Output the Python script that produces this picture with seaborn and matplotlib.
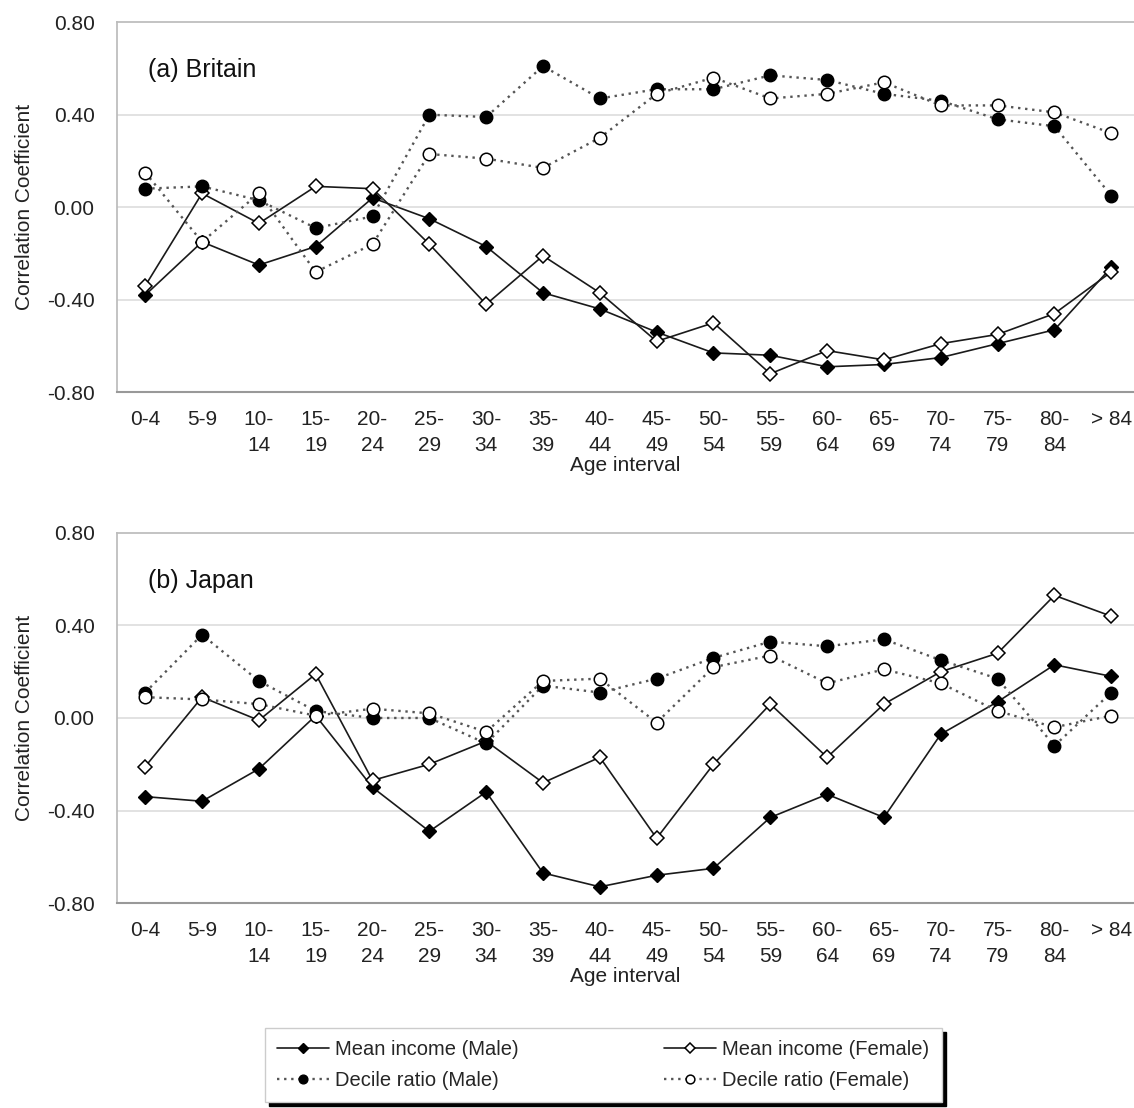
import numpy as np
import pandas as pd
import seaborn as sns
import matplotlib.pyplot as plt

age_labels = ["0-4", "5-9", "10-\n14", "15-\n19", "20-\n24", "25-\n29", "30-\n34", "35-\n39",
              "40-\n44", "45-\n49", "50-\n54", "55-\n59", "60-\n64", "65-\n69", "70-\n74",
              "75-\n79", "80-\n84", "> 84"]

# (a) Britain
gb_mean_male = [-0.38, -0.15, -0.25, -0.17, 0.04, -0.05, -0.17, -0.37, -0.44, -0.54,
                -0.63, -0.64, -0.69, -0.68, -0.65, -0.59, -0.53, -0.26]
gb_mean_female = [-0.34, 0.06, -0.07, 0.09, 0.08, -0.16, -0.42, -0.21, -0.37, -0.58,
                  -0.50, -0.72, -0.62, -0.66, -0.59, -0.55, -0.46, -0.28]
gb_decile_male = [0.08, 0.09, 0.03, -0.09, -0.04, 0.40, 0.39, 0.61, 0.47, 0.51,
                  0.51, 0.57, 0.55, 0.49, 0.46, 0.38, 0.35, 0.05]
gb_decile_female = [0.15, -0.15, 0.06, -0.28, -0.16, 0.23, 0.21, 0.17, 0.30, 0.49,
                    0.56, 0.47, 0.49, 0.54, 0.44, 0.44, 0.41, 0.32]

# (b) Japan
jp_mean_male = [-0.34, -0.36, -0.22, 0.01, -0.30, -0.49, -0.32, -0.67, -0.73, -0.68,
                -0.65, -0.43, -0.33, -0.43, -0.07, 0.07, 0.23, 0.18]
jp_mean_female = [-0.21, 0.09, -0.01, 0.19, -0.27, -0.20, -0.10, -0.28, -0.17, -0.52,
                  -0.20, 0.06, -0.17, 0.06, 0.20, 0.28, 0.53, 0.44]
jp_decile_male = [0.11, 0.36, 0.16, 0.03, 0.00, 0.00, -0.11, 0.14, 0.11, 0.17,
                  0.26, 0.33, 0.31, 0.34, 0.25, 0.17, -0.12, 0.11]
jp_decile_female = [0.09, 0.08, 0.06, 0.01, 0.04, 0.02, -0.06, 0.16, 0.17, -0.02,
                    0.22, 0.27, 0.15, 0.21, 0.15, 0.03, -0.04, 0.01]

series_names = ["Mean income (Male)", "Mean income (Female)",
                "Decile ratio (Male)", "Decile ratio (Female)"]

sns.set_theme(style="white")
plt.rcParams['font.family'] = ['Liberation Sans', 'DejaVu Sans']

styles = {
    "Mean income (Male)": dict(ls="-", lw=1.2, color="#1a1a1a", marker="D", ms=7,
                               mfc="black", mec="black"),
    "Mean income (Female)": dict(ls="-", lw=1.2, color="#1a1a1a", marker="D", ms=7,
                                 mfc="white", mec="black", mew=1.1),
    "Decile ratio (Male)": dict(ls=(0, (1, 2.0)), lw=1.7, color="#555555", marker="o", ms=9,
                                mfc="black", mec="black"),
    "Decile ratio (Female)": dict(ls=(0, (1, 2.0)), lw=1.7, color="#555555", marker="o", ms=9,
                                  mfc="white", mec="black", mew=1.1),
}

fig = plt.figure(figsize=(11.34, 11.08), dpi=100)
ax_a = fig.add_axes([0.103, 0.646, 0.897, 0.334])
ax_b = fig.add_axes([0.103, 0.185, 0.897, 0.334])

panels = [
    (ax_a, "(a) Britain", [gb_mean_male, gb_mean_female, gb_decile_male, gb_decile_female]),
    (ax_b, "(b) Japan", [jp_mean_male, jp_mean_female, jp_decile_male, jp_decile_female]),
]

x = np.arange(len(age_labels))
for ax, title, values in panels:
    for name, vals in zip(series_names, values):
        df = pd.DataFrame({"age": x, "r": vals})
        st = styles[name]
        sns.lineplot(data=df, x="age", y="r", ax=ax, color=st["color"], linewidth=st["lw"],
                     linestyle=st["ls"], marker=st["marker"], markersize=st["ms"],
                     markerfacecolor=st["mfc"], markeredgecolor=st["mec"],
                     markeredgewidth=st.get("mew", 1.0), label=name, legend=False)
    ax.set_xlim(-0.5, 17.4)
    ax.set_ylim(-0.8, 0.8)
    ax.set_yticks([-0.8, -0.4, 0.0, 0.4, 0.8])
    ax.set_yticklabels([f"{v:.2f}" for v in [-0.8, -0.4, 0.0, 0.4, 0.8]], fontsize=15, color="#222222")
    ax.set_xticks(x)
    ax.set_xticklabels(age_labels, fontsize=15, color="#222222", linespacing=1.45)
    ax.set_xticks(np.arange(0.5, 17, 1), minor=True)
    ax.tick_params(axis="x", which="major", length=0, pad=13)
    ax.tick_params(axis="x", which="minor", direction="in", length=5, color="#999999", width=1)
    ax.tick_params(axis="y", length=0, pad=16)
    for v in [-0.4, 0.0, 0.4]:
        ax.axhline(v, color="#dddddd", lw=1.2, zorder=0)
    ax.spines["right"].set_visible(False)
    ax.spines["top"].set_color("#bbbbbb")
    ax.spines["left"].set_color("#bbbbbb")
    ax.spines["bottom"].set_color("#999999")
    ax.spines["bottom"].set_linewidth(1.5)
    ax.set_xlabel("Age interval", fontsize=15, color="#222222", labelpad=1)
    ax.set_ylabel("Correlation Coefficient", fontsize=15, color="#222222", labelpad=9)
    ax.text(0.031, 0.87, title, transform=ax.transAxes, fontsize=18, color="#111111",
            va="center", ha="left")

handles, labels = ax_a.get_legend_handles_labels()
order = [0, 2, 1, 3]
leg = fig.legend([handles[i] for i in order], [labels[i] for i in order],
                 loc="center", bbox_to_anchor=(0.532, 0.039), ncol=2, fontsize=14.5,
                 frameon=True, fancybox=False, edgecolor="#cccccc", handlelength=2.6,
                 columnspacing=7.2, borderpad=0.6, labelspacing=0.6, markerscale=0.7,
                 handletextpad=0.3, borderaxespad=0,
                 shadow={"ox": 3, "oy": -3, "color": "black", "alpha": 1.0})

fig.savefig("out.png", dpi=100)
